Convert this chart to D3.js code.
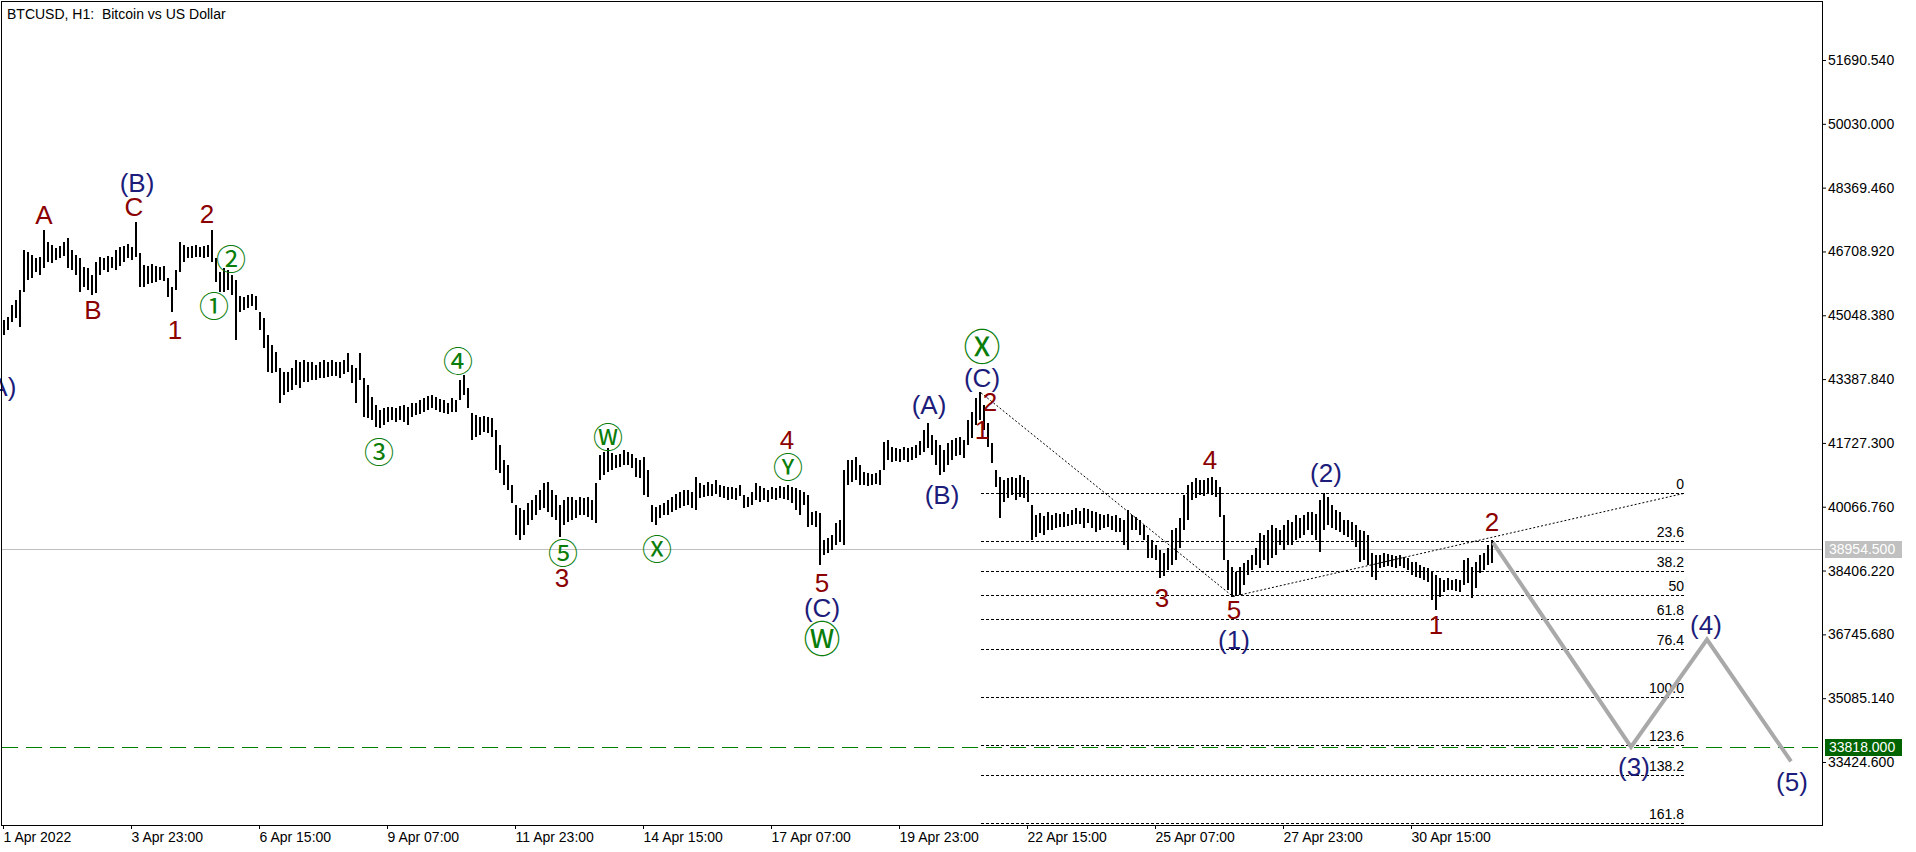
<!DOCTYPE html>
<html><head><meta charset="utf-8">
<script src="https://cdn.jsdelivr.net/npm/d3@7"></script>
<style>body{margin:0;background:#fff} svg{display:block}</style>
</head><body>
<svg id="chart" width="1916" height="852"></svg>
<script>
// ---- DATA (BTCUSD, bars of 2 hours starting 1 Apr 2022 07:00) ----
const barHigh = [
44930,45008,45320,45450,45710,46750,46698,46620,46542,46568,
47270,46958,46880,46802,46854,46958,47062,46750,46620,46542,
46308,46282,46100,46438,46568,46542,46594,46568,46750,46828,
46854,46906,46828,47478,46672,46360,46334,46386,46334,46308,
46334,46022,45788,46230,46958,46880,46828,46854,46880,46828,
46854,46880,47270,46542,46178,46282,46230,46100,45970,45554,
45528,45580,45606,45554,45138,44982,44540,44280,44098,43682,
43578,43578,43682,43890,43838,43890,43838,43838,43760,43838,
43890,43838,43890,43838,43838,43890,44072,43760,43682,44072,
43422,43240,42928,42720,42590,42642,42668,42668,42642,42694,
42720,42668,42772,42772,42850,42902,42954,42980,42928,42876,
42850,42772,42902,42850,43370,43500,43162,42512,42460,42408,
42434,42408,42382,42070,41680,41290,41160,40640,40120,40042,
39990,40172,40250,40380,40510,40692,40718,40510,40380,40120,
40250,40328,40328,40250,40328,40302,40328,40250,40692,41420,
41498,41602,41472,41420,41446,41550,41498,41446,41342,41290,
41368,41030,40120,40068,40120,40172,40250,40328,40406,40458,
40510,40510,40458,40848,40692,40640,40718,40666,40770,40640,
40614,40588,40588,40562,40640,40380,40328,40458,40692,40614,
40562,40510,40588,40562,40614,40588,40640,40588,40562,40510,
40458,40380,39938,39964,39912,39210,39262,39340,39652,39730,
41030,41290,41290,41368,41160,40978,40952,40926,40952,41030,
41758,41810,41628,41602,41576,41628,41602,41628,41680,41784,
42070,42252,41940,41810,41680,41550,41732,41810,41862,41888,
41810,42330,42538,42902,43058,42720,42252,41732,41030,40848,
40770,40822,40848,40822,40900,40848,40770,40120,39860,39912,
39834,39938,39860,39912,39886,39938,39886,39990,40042,39964,
40042,40016,39964,39938,39886,39860,39886,39834,39860,39782,
39730,39990,39860,39808,39730,39600,39340,39210,39080,38950,
38872,39002,39470,39522,39782,40380,40640,40718,40822,40770,
40770,40822,40848,40770,40588,39860,38690,38508,38378,38508,
38612,38690,38820,39002,39392,39340,39470,39600,39522,39470,
39600,39730,39678,39860,39782,39860,39938,39938,39886,40250,
40432,40328,40120,39990,39938,39730,39730,39678,39600,39470,
39444,39340,38872,38820,38820,38872,38846,38820,38794,38820,
38768,38742,38638,38638,38560,38508,38482,38378,38300,38222,
38170,38222,38170,38196,38170,38690,38742,38508,38638,38820,
38872,39080,39210];
const barLow = [
44540,44670,44878,44982,44748,45658,45970,46022,46178,46100,
46282,46438,46412,46490,46542,46594,46282,46230,46100,45658,
45788,45710,45580,45632,46100,46230,46178,46282,46230,46334,
46438,46542,46490,46568,45788,45788,45866,45892,45918,45970,
45944,45528,45138,45710,46178,46438,46542,46542,46568,46568,
46542,46568,46438,45918,45658,45658,45710,45580,44410,45138,
45190,45242,45294,45190,44670,44202,43578,43552,43578,42772,
42980,43058,43110,43240,43162,43318,43318,43370,43370,43422,
43422,43448,43474,43474,43422,43526,43578,43292,42772,43370,
42408,42382,42330,42148,42122,42200,42278,42330,42278,42330,
42278,42200,42408,42460,42486,42538,42590,42642,42590,42538,
42512,42486,42538,42538,42850,42980,42642,41810,41888,41940,
42018,41992,41888,41030,40952,40640,40510,40172,39340,39210,
39340,39600,39730,39860,39990,40042,39938,39808,39730,39288,
39600,39678,39730,39782,39860,39860,39808,39730,39652,40770,
40900,40978,41030,41082,41108,41160,41160,41082,40848,40822,
40380,40328,39678,39600,39782,39860,39860,39938,39990,40042,
40094,40120,40042,39990,40302,40328,40354,40354,40406,40328,
40302,40250,40276,40250,40354,40042,40068,40120,40250,40198,
40250,40198,40276,40250,40302,40276,40250,40172,39990,39860,
40120,39548,39600,39548,38560,38820,38872,38950,39080,39158,
39080,40640,40718,40770,40640,40640,40614,40640,40666,40640,
41030,41290,41238,41264,41238,41290,41238,41290,41342,41420,
41498,41602,41420,41160,40900,40978,41160,41290,41394,41420,
41342,41680,41862,42200,42330,42070,41628,41212,40588,39782,
40198,40302,40380,40250,40328,40302,40198,39210,39288,39392,
39340,39470,39470,39522,39548,39548,39574,39600,39626,39626,
39522,39652,39522,39418,39470,39522,39548,39470,39418,39418,
39080,38950,39470,39470,39340,39210,38742,38742,38690,38222,
38274,38430,38560,38690,39002,39470,39730,40250,40302,40380,
40354,40406,40380,40328,39808,38690,37910,37728,37754,37780,
38040,38300,38430,38560,38482,38690,38560,38742,38820,39080,
38950,39080,39080,39210,39262,39340,39470,39340,39210,38898,
39470,39600,39522,39470,39418,39340,39288,39210,39028,38638,
38690,38560,38248,38170,38482,38508,38534,38508,38482,38534,
38482,38430,38300,38248,38222,38170,38118,37650,37390,37728,
37858,37910,37910,37884,37858,38040,38092,37702,37962,38352,
38430,38560,38612];
const lastPrice = 38954.5;
const targetPrice = 33818;
const priceTicks = [51690.54, 50030.00, 48369.46, 46708.92, 45048.38, 43387.84,
                    41727.30, 40066.76, 38406.22, 36745.68, 35085.14, 33424.60];
const timeTickLabels = ["1 Apr 2022","3 Apr 23:00","6 Apr 15:00","9 Apr 07:00","11 Apr 23:00",
  "14 Apr 15:00","17 Apr 07:00","19 Apr 23:00","22 Apr 15:00","25 Apr 07:00","27 Apr 23:00","30 Apr 15:00"];
const timeTickHours = [0,64,128,192,256,320,384,448,512,576,640,704];
const fibLevels = [0, 23.6, 38.2, 50, 61.8, 76.4, 100, 123.6, 138.2, 161.8];
const fibLevelLabels = ["0","23.6","38.2","50","61.8","76.4","100.0","123.6","138.2","161.8"];
const fibHours = [489, 615, 841];
const fibPrices = [43030, 37730, 40420];
const projHours = [745, 814, 852, 894];
const projPrices = [39130, 33818, 36610, 33440];
const waveText  = ["(A)","A","B","(B)","C","1","2","②","①","④","③","⑤","3","Ⓦ","Ⓧ","4","Ⓨ","5","(C)","Ⓦ",
                   "(A)","(B)","Ⓧ","(C)","2","1","3","4","5","(1)","(2)","1","2","(4)","(3)","(5)"];
const waveKind  = ["i","m","m","i","m","m","m","c","c","c","c","c","m","c","c","m","c","m","i","C",
                   "i","i","C","i","m","m","m","m","m","i","i","m","m","i","i","i"];
const waveHour  = [-2,20.5,45,67,65.5,86,102,114,105.5,227.5,188,280,279.5,302.5,327,392,392.5,409.5,409.5,409.5,
                   463,469.5,489.5,489.5,493.5,489.5,579.5,603.5,615.5,615.5,661.5,716.5,744.5,851.5,815.5,894.5];
const wavePrice = [43182,47657,45185,48490,47865,44665,47683,46565,45341,43910,41543,38915,38212,41933,39019,41803,41152,38082,37432,36677,
                   42714,40372,44275,43416,42792,42063,37692,41283,37380,36599,40944,36990,39670,36990,33295,32904];

// ---- STYLES ----
const W = 1916, H = 852;
const plot = {left: 1.5, top: 1.5, right: 1822.5, bottom: 825.5};
const kindStyle = {
  m: {fill: "#8b0000", size: 26, font: "'Liberation Sans', Arial, sans-serif"},
  i: {fill: "#1c1c7a", size: 26, font: "'Liberation Sans', Arial, sans-serif"},
  c: {fill: "#0a7d0a", size: 30, font: "'Noto Sans CJK JP', 'DejaVu Sans', sans-serif"},
  C: {fill: "#0a7d0a", size: 37, font: "'Noto Sans CJK JP', 'DejaVu Sans', sans-serif"}
};
const axisFont = "'Liberation Sans', Arial, sans-serif";

const svg = d3.select("#chart");
svg.append("rect").attr("width", W).attr("height", H).attr("fill", "#fff");

const hour = 3600e3;
const t0 = new Date(Date.UTC(2022, 3, 1, 7));
const T = h => new Date(+t0 + h * hour);
const x = d3.scaleUtc().domain([t0, T(900)]).range([3, 1803]);
const y = d3.scaleLinear().domain([33424.60, 51690.54]).range([762, 60]);

// current price line
svg.append("line").attr("x1", 2).attr("x2", 1822)
  .attr("y1", Math.round(y(lastPrice)) + 0.5).attr("y2", Math.round(y(lastPrice)) + 0.5)
  .attr("stroke", "#c0c0c0").attr("stroke-width", 1);

// fibonacci expansion levels
const fx1 = x(T(fibHours[0])), fx2 = x(T(fibHours[2]));
const range = fibPrices[0] - fibPrices[1];
const fibG = svg.append("g");
fibLevels.forEach((lv, i) => {
  const py = Math.round(y(fibPrices[2] - range * lv / 100)) + 0.5;
  fibG.append("line").attr("x1", fx1).attr("x2", fx2).attr("y1", py).attr("y2", py)
    .attr("stroke", "#000").attr("stroke-width", 1).attr("stroke-dasharray", "3,2");
  fibG.append("text").attr("x", fx2 - 1).attr("y", py - 4.5).attr("text-anchor", "end")
    .attr("font-family", axisFont).attr("font-size", 14).attr("fill", "#000").text(fibLevelLabels[i]);
});
// trend lines of the expansion tool
svg.append("path")
  .attr("d", d3.line()(fibHours.map((h, i) => [x(T(h)), y(fibPrices[i])])))
  .attr("fill", "none").attr("stroke", "#000").attr("stroke-width", 1).attr("stroke-dasharray", "2,2");

// target line
svg.append("line").attr("x1", 2).attr("x2", 1822)
  .attr("y1", Math.round(y(targetPrice)) + 0.5).attr("y2", Math.round(y(targetPrice)) + 0.5)
  .attr("stroke", "#008000").attr("stroke-width", 1).attr("stroke-dasharray", "16,8");

// bars
const bars = barHigh.map((hv, j) => ({h: hv, l: barLow[j], t: T(2 * j + 0.5)}));
svg.append("g").selectAll("line").data(bars).join("line")
  .attr("x1", d => Math.round(x(d.t))).attr("x2", d => Math.round(x(d.t)))
  .attr("y1", d => y(d.h)).attr("y2", d => y(d.l))
  .attr("stroke", "#000").attr("stroke-width", 2).attr("shape-rendering", "crispEdges");

// projection
svg.append("path")
  .attr("d", d3.line()(projHours.map((h, i) => [x(T(h)), y(projPrices[i])])))
  .attr("fill", "none").attr("stroke", "#a9a9a9").attr("stroke-width", 4)
  .attr("stroke-linejoin", "miter");

// wave labels
const labG = svg.append("g");
waveText.forEach((t, i) => {
  const st = kindStyle[waveKind[i]];
  const isC = waveKind[i] === "c" || waveKind[i] === "C";
  labG.append("text")
    .attr("x", x(T(waveHour[i])))
    .attr("y", y(wavePrice[i]) + (isC ? 0 : 0.34 * st.size))
    .attr("dominant-baseline", isC ? "central" : "auto")
    .attr("text-anchor", "middle")
    .attr("font-family", st.font).attr("font-size", st.size).attr("fill", st.fill)
    .text(t);
});

// frame
svg.append("rect").attr("x", plot.left).attr("y", plot.top)
  .attr("width", plot.right - plot.left).attr("height", plot.bottom - plot.top)
  .attr("fill", "none").attr("stroke", "#000").attr("stroke-width", 1);

// right price axis
const yAxis = svg.append("g").attr("transform", "translate(1822,0)")
  .call(d3.axisRight(y).tickValues(priceTicks).tickFormat(d3.format(".3f")).tickSize(4).tickPadding(2));
yAxis.select(".domain").remove();
yAxis.selectAll("text").attr("font-family", axisFont).attr("font-size", 14).attr("fill", "#000");
yAxis.selectAll("line").attr("stroke", "#000");

// bottom time axis
const xAxis = svg.append("g").attr("transform", "translate(0,825)")
  .call(d3.axisBottom(x).tickValues(timeTickHours.map(T)).tickFormat((d, i) => timeTickLabels[i]).tickSize(4).tickPadding(3));
xAxis.select(".domain").remove();
xAxis.selectAll("text").attr("font-family", axisFont).attr("font-size", 14).attr("fill", "#000")
  .attr("text-anchor", "start");
xAxis.selectAll("line").attr("stroke", "#000");

// price tags
function tag(price, bg, fg) {
  const py = y(price);
  svg.append("rect").attr("x", 1825).attr("y", Math.round(py) - 8).attr("width", 77).attr("height", 17).attr("fill", bg);
  svg.append("text").attr("x", 1829).attr("y", py).attr("dy", "0.35em")
    .attr("font-family", axisFont).attr("font-size", 14).attr("fill", fg).text(d3.format(".3f")(price));
}
tag(lastPrice, "#c0c0c0", "#fff");
tag(targetPrice, "#006400", "#fff");

// title
svg.append("text").attr("x", 7).attr("y", 19).style("white-space", "pre")
  .attr("font-family", axisFont).attr("font-size", 14).attr("fill", "#000")
  .text("BTCUSD, H1:  Bitcoin vs US Dollar");
</script>
</body></html>
